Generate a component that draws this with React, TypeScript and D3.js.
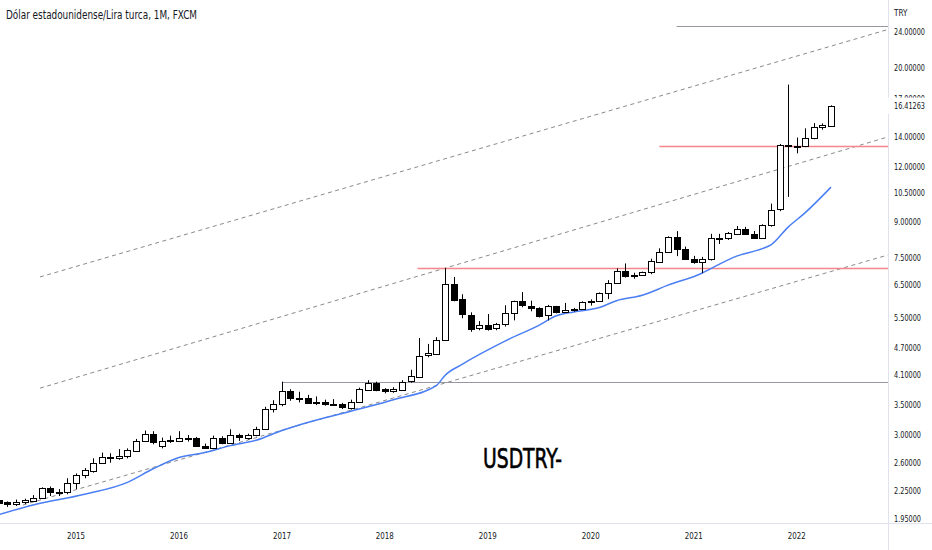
import React from "react";
import * as d3 from "d3";

// ---------- DATA ----------
// Monthly candles, Apr 2014 .. May 2022 (index 0 = Apr 2014)
const opens = [
  2.15, 2.12, 2.10, 2.12, 2.14, 2.17, 2.28, 2.23, 2.23,
  2.34, 2.44, 2.50, 2.60, 2.68, 2.66, 2.69, 2.77, 2.91, 3.02, 2.84, 2.91,
  2.92, 2.96, 2.96, 2.84, 2.81, 2.96, 2.88, 3.00, 2.96, 3.00, 3.10, 3.43,
  3.52, 3.77, 3.64, 3.64, 3.55, 3.56, 3.52, 3.52, 3.46, 3.56, 3.80, 3.93,
  3.80, 3.77, 3.80, 3.95, 4.06, 4.52, 4.57, 4.91, 6.55, 6.04, 5.58, 5.20,
  5.29, 5.19, 5.31, 5.62, 5.98, 5.85, 5.79, 5.57, 5.83, 5.65, 5.72, 5.74,
  5.95, 5.99, 6.24, 6.58, 7.00, 6.82, 6.85, 6.96, 7.35, 7.72, 8.34, 7.83,
  7.43, 7.31, 7.44, 8.30, 8.28, 8.50, 8.70, 8.47, 8.31, 8.88, 9.60, 13.39,
  13.30, 13.28, 13.86, 14.67, 14.83,
];
const highs = [
  2.16, 2.13, 2.15, 2.16, 2.20, 2.29, 2.30, 2.27, 2.40,
  2.46, 2.53, 2.66, 2.74, 2.73, 2.79, 2.80, 2.94, 3.07, 3.06, 2.96, 2.99,
  3.06, 3.00, 2.97, 2.87, 2.99, 2.98, 3.09, 3.02, 3.02, 3.13, 3.47, 3.59,
  3.95, 3.80, 3.75, 3.69, 3.66, 3.60, 3.61, 3.54, 3.60, 3.83, 3.98, 3.95,
  3.82, 3.84, 3.98, 4.20, 4.95, 4.80, 4.97, 7.10, 6.78, 6.20, 5.65, 5.40,
  5.60, 5.35, 5.86, 6.00, 6.27, 6.00, 5.80, 5.87, 5.84, 5.93, 5.78, 5.98,
  6.04, 6.26, 6.67, 7.09, 7.27, 6.93, 6.97, 7.45, 7.86, 8.36, 8.59, 7.93,
  7.56, 7.52, 8.47, 8.47, 8.55, 8.82, 8.78, 8.60, 8.90, 9.90, 13.47, 18.30,
  13.92, 14.60, 15.00, 14.98, 16.44,
];
const lows = [
  2.09, 2.07, 2.08, 2.10, 2.13, 2.16, 2.19, 2.19, 2.21,
  2.27, 2.40, 2.47, 2.59, 2.60, 2.64, 2.66, 2.76, 2.90, 2.86, 2.80, 2.88,
  2.91, 2.90, 2.82, 2.79, 2.80, 2.86, 2.87, 2.91, 2.93, 2.98, 3.08, 3.37,
  3.48, 3.58, 3.55, 3.53, 3.50, 3.49, 3.49, 3.43, 3.42, 3.54, 3.79, 3.76,
  3.72, 3.73, 3.78, 3.93, 4.03, 4.48, 4.55, 4.90, 5.98, 5.48, 5.11, 5.15,
  5.14, 5.15, 5.25, 5.42, 5.80, 5.68, 5.50, 5.42, 5.62, 5.63, 5.67, 5.72,
  5.85, 5.96, 6.05, 6.55, 6.76, 6.72, 6.82, 6.88, 7.30, 7.70, 7.55, 7.40,
  7.26, 6.92, 7.38, 8.04, 8.21, 8.44, 8.43, 8.26, 8.30, 8.79, 9.52, 10.25,
  12.83, 13.25, 13.80, 14.50, 14.80,
];
const closes = [
  2.12, 2.10, 2.12, 2.14, 2.17, 2.28, 2.23, 2.23, 2.34,
  2.44, 2.50, 2.60, 2.68, 2.66, 2.69, 2.77, 2.91, 3.02, 2.90, 2.91, 2.92,
  2.96, 2.96, 2.84, 2.81, 2.96, 2.88, 3.00, 2.97, 3.00, 3.10, 3.43, 3.52,
  3.77, 3.64, 3.63, 3.55, 3.56, 3.52, 3.51, 3.46, 3.56, 3.80, 3.93, 3.80,
  3.77, 3.80, 3.95, 4.06, 4.52, 4.57, 4.91, 6.55, 6.04, 5.58, 5.20, 5.29,
  5.19, 5.31, 5.62, 5.98, 5.85, 5.79, 5.57, 5.83, 5.65, 5.72, 5.74, 5.95,
  5.99, 6.24, 6.58, 7.00, 6.82, 6.85, 6.96, 7.35, 7.72, 8.34, 7.83, 7.43,
  7.31, 7.44, 8.30, 8.28, 8.50, 8.70, 8.47, 8.31, 8.88, 9.60, 13.39, 13.30,
  13.26, 13.86, 14.67, 14.83, 16.41,
];

// Moving average (at sample months)
const maIndex = [0, 4, 10, 15, 18, 21, 24, 27, 30, 33, 35, 42, 46, 51, 52, 54, 59, 63, 65, 67, 70, 72, 75, 78, 82, 83, 86, 89, 90, 92, 94, 97];
const maValues = [1.99, 2.09, 2.21, 2.35, 2.52, 2.67, 2.74, 2.84, 2.92, 3.07, 3.16, 3.43, 3.60, 3.87, 4.08, 4.32, 4.87, 5.29, 5.55, 5.66, 5.79, 6.0, 6.17, 6.5, 6.92, 7.08, 7.55, 7.85, 8.0, 8.77, 9.45, 10.78];

// Dashed channel lines: start/end (month index, price)
const channelStartIdx = [4.8, 4.8, 2.8];
const channelStartPrice = [6.78, 3.82, 2.09];
const channelEndIdx = [103.6, 103.6, 103.6];
const channelEndPrice = [24.3, 13.96, 7.59];

// Horizontal levels
const levelPrices = [3.95, 7.1, 13.34, 24.75];
const levelStartIdx = [33, 48.8, 77, 79];

const yearLabels = ["2015", "2016", "2017", "2018", "2019", "2020", "2021", "2022"];
const yearTickIndex = [9, 21, 33, 45, 57, 69, 81, 93];
const priceTicks = [24, 20, 17, 14, 12, 10.5, 9, 7.5, 6.5, 5.5, 4.7, 4.1, 3.5, 3, 2.6, 2.25, 1.95];
const lastPrice = 16.41263;

const titleText = "Dólar estadounidense/Lira turca, 1M, FXCM";
const watermarkText = "USDTRY-";
const currencyText = "TRY";

// ---------- STYLE ----------
const W = 932;
const H = 550;
const PLOT_R = 888;
const PLOT_B = 523;
const NARROW = "'Liberation Sans Narrow', 'DejaVu Sans Condensed', 'Arial Narrow', sans-serif";
const TEXT = "#131722";
const GRID = "#e0e3eb";
const levelColors = ["#9598a1", "#f7868b", "#f7868b", "#9598a1"];
const levelWidths = [1, 1.5, 1.5, 1];

export default function App() {
  const x = d3.scaleLinear().domain([0, 97]).range([-1.2, 831]);
  const y = d3.scaleLog().domain([3, 24]).range([435, 32]);

  const candles = closes.map((c, i) => ({ i, o: opens[i], h: highs[i], l: lows[i], c }));

  const maLine = d3
    .line<number>()
    .x((_, k) => x(maIndex[k]))
    .y((v) => y(v))
    .curve(d3.curveMonotoneX)(maValues) as string;

  const bw = 6;

  return (
    <svg
      width={W}
      height={H}
      viewBox={`0 0 ${W} ${H}`}
      style={{ position: "absolute", left: 0, top: 0, display: "block", background: "#fff" }}
    >
      <defs>
        <clipPath id="plot">
          <rect x={0} y={0} width={PLOT_R} height={PLOT_B} />
        </clipPath>
      </defs>
      <rect x={0} y={0} width={W} height={H} fill="#fff" />

      <g clipPath="url(#plot)">
        {channelStartIdx.map((s, k) => (
          <line
            key={"ch" + k}
            x1={x(s)}
            y1={y(channelStartPrice[k])}
            x2={x(channelEndIdx[k])}
            y2={y(channelEndPrice[k])}
            stroke="#8a8a8a"
            strokeWidth={1}
            strokeDasharray="4 3.5"
          />
        ))}
        {levelPrices.map((p, k) => (
          <line
            key={"lv" + k}
            x1={x(levelStartIdx[k])}
            x2={PLOT_R}
            y1={Math.round(y(p)) + 0.5}
            y2={Math.round(y(p)) + 0.5}
            stroke={levelColors[k]}
            strokeWidth={levelWidths[k]}
          />
        ))}
        <path d={maLine} fill="none" stroke="#4a7ef3" strokeWidth={1.5} />
        {candles.map((d) => {
          const cx = Math.round(x(d.i));
          const yo = y(d.o);
          const yc = y(d.c);
          const top = Math.round(Math.min(yo, yc));
          const hgt = Math.max(1, Math.round(Math.abs(yo - yc)));
          const up = d.c >= d.o;
          return (
            <g key={d.i}>
              <line x1={cx + 0.5} x2={cx + 0.5} y1={y(d.h)} y2={y(d.l)} stroke="#000" strokeWidth={1} />
              <rect
                x={cx - bw / 2 + 0.5}
                y={top + 0.5}
                width={bw}
                height={hgt}
                fill={up ? "#fff" : "#000"}
                stroke="#000"
                strokeWidth={1}
              />
            </g>
          );
        })}
      </g>

      <line x1={PLOT_R + 0.5} x2={PLOT_R + 0.5} y1={0} y2={H} stroke={GRID} strokeWidth={1} />
      <line x1={0} x2={W} y1={PLOT_B + 0.5} y2={PLOT_B + 0.5} stroke={GRID} strokeWidth={1} />

      {priceTicks.map((p) => (
        <text
          key={"pt" + p}
          x={894}
          y={y(p)}
          dy="0.35em"
          fontFamily={NARROW}
          fontSize={9.5}
          fill={TEXT}
          textLength={p >= 10 ? 31 : 27}
          lengthAdjust="spacingAndGlyphs"
        >
          {p.toFixed(5)}
        </text>
      ))}
      <text x={894} y={13} dy="0.35em" fontFamily={NARROW} fontSize={8} fill={TEXT}>
        {currencyText}
      </text>
      <rect x={PLOT_R - 1} y={y(lastPrice) - 8} width={W - PLOT_R + 1} height={16} fill="#fff" />
      <text
        x={894}
        y={y(lastPrice)}
        dy="0.35em"
        fontFamily={NARROW}
        fontSize={9.5}
        fill={TEXT}
        textLength={31}
        lengthAdjust="spacingAndGlyphs"
      >
        {lastPrice.toFixed(5)}
      </text>

      {yearTickIndex.map((ix, k) => (
        <text
          key={"yr" + k}
          x={x(ix)}
          y={536}
          dy="0.35em"
          textAnchor="middle"
          fontFamily={NARROW}
          fontSize={9.5}
          fill={TEXT}
          textLength={18}
          lengthAdjust="spacingAndGlyphs"
        >
          {yearLabels[k]}
        </text>
      ))}

      <text x={6} y={19} fontFamily={NARROW} fontSize={12.5} fill={TEXT} textLength={191} lengthAdjust="spacingAndGlyphs">
        {titleText}
      </text>
      <text
        x={483}
        y={468}
        fontFamily={NARROW}
        fontSize={27}
        fill="#000"
        stroke="#000"
        strokeWidth={0.6}
        textLength={79}
        lengthAdjust="spacingAndGlyphs"
      >
        {watermarkText}
      </text>
    </svg>
  );
}
